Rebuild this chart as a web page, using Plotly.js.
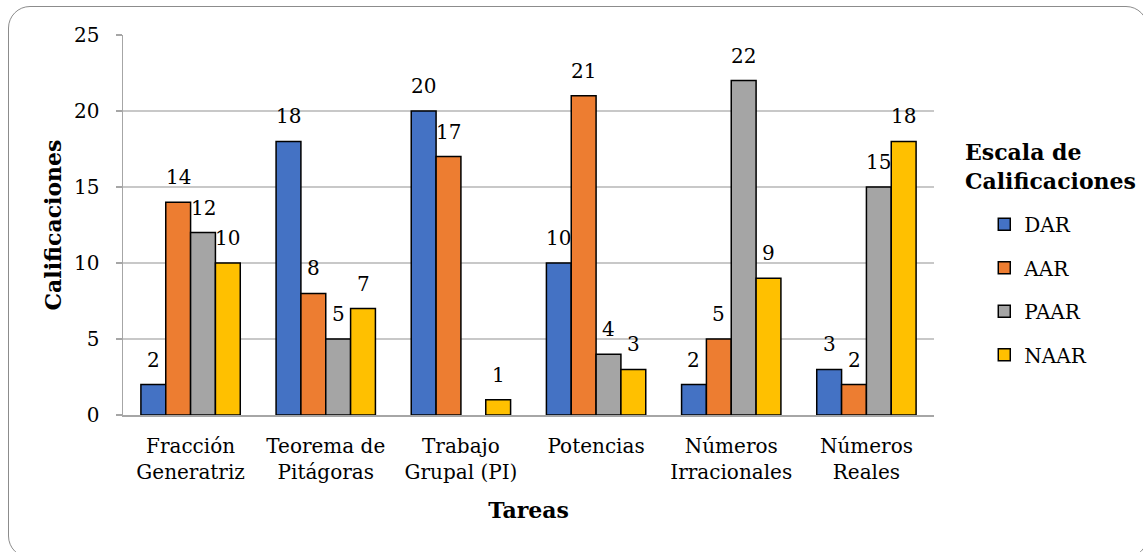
<!DOCTYPE html>
<html>
<head>
<meta charset="utf-8">
<script src="https://cdn.plot.ly/plotly-3.0.1.min.js"></script>
<style>
  html, body { margin: 0; padding: 0; background: #fff; }
  #wrap { position: relative; width: 1143px; height: 552px; overflow: hidden; }
  #chart { width: 1143px; height: 552px; }
  #frame { position: absolute; left: 8px; top: 5.5px; width: 1140px; height: 552px;
           border: 1.5px solid #8c8c8c; border-radius: 22px; pointer-events: none; box-sizing: border-box; }
</style>
</head>
<body>
<div id="wrap">
  <div id="chart"></div>
  <div id="frame"></div>
</div>
<script>
const categories = ["Fracción<br>Generatriz", "Teorema de<br>Pitágoras", "Trabajo<br>Grupal (PI)", "Potencias", "Números<br>Irracionales", "Números<br>Reales"];
const seriesNames = ["DAR", "AAR", "PAAR", "NAAR"];
const DAR  = [2, 18, 20, 10, 2, 3];
const AAR  = [14, 8, 17, 21, 5, 2];
const PAAR = [12, 5, null, 4, 22, 15];
const NAAR = [10, 7, 1, 3, 9, 18];
const seriesValues = [DAR, AAR, PAAR, NAAR];
const colors = ["#4472C4", "#ED7D31", "#A5A5A5", "#FFC000"];
const yTicks = [0, 5, 10, 15, 20, 25];

const FONT = "DejaVu Serif";
const bargap = 0.265;
const barW = (1 - bargap) / seriesNames.length;

const traces = seriesNames.map((name, i) => ({
  type: "bar",
  name: name,
  x: categories,
  y: seriesValues[i],
  marker: { color: colors[i], line: { color: "#000", width: 1.5 } },
  legendgroup: name,
  hoverinfo: "y+name"
}));

const annotations = [];
seriesValues.forEach((vals, i) => {
  const off = (i - (seriesNames.length - 1) / 2) * barW;
  vals.forEach((v, j) => {
    if (v === null) return;
    annotations.push({
      x: j + off, y: v, xref: "x", yref: "y",
      text: String(v), showarrow: false,
      xanchor: "center", yanchor: "bottom", yshift: 11,
      font: { family: FONT, size: 20, color: "#000" }
    });
  });
});

annotations.push({
  xref: "paper", yref: "paper", x: 1.0358, y: 0.655,
  xanchor: "left", yanchor: "middle", align: "left", showarrow: false,
  text: "<b>Escala de<br>Calificaciones</b>",
  font: { family: FONT, size: 22, color: "#000" }
});

const layout = {
  width: 1143, height: 552,
  margin: { l: 123, r: 209, t: 35, b: 137 },
  paper_bgcolor: "#fff", plot_bgcolor: "#fff",
  barmode: "group", bargap: bargap, bargroupgap: 0,
  font: { family: FONT, size: 20, color: "#000" },
  xaxis: {
    type: "category",
    showline: true, linecolor: "#a6a6a6", linewidth: 1.5,
    ticks: "", ticklabelstandoff: 12,
    tickfont: { family: FONT, size: 20, color: "#000" },
    title: { text: "<b>Tareas</b>", font: { family: FONT, size: 22, color: "#000" }, standoff: 20 },
    fixedrange: true
  },
  yaxis: {
    range: [0, 25], tickvals: yTicks, ticktext: yTicks.map(String),
    showline: true, linecolor: "#a6a6a6", linewidth: 1.5,
    ticks: "outside", ticklen: 6, tickcolor: "#a6a6a6", tickwidth: 1.5,
    showgrid: true, gridcolor: "#c8c8c8", gridwidth: 1.5,
    zeroline: false,
    ticklabelstandoff: 12,
    tickfont: { family: FONT, size: 20, color: "#000" },
    title: { text: "<b>Calificaciones</b>", font: { family: FONT, size: 22, color: "#000" }, standoff: 6 },
    fixedrange: true
  },
  showlegend: true,
  legend: {
    x: 1.062, xanchor: "left", y: 0.553, yanchor: "top",
    font: { family: FONT, size: 20, color: "#000" },
    tracegroupgap: 14.5, bgcolor: "rgba(0,0,0,0)"
  },
  annotations: annotations
};

Plotly.newPlot("chart", traces, layout, { staticPlot: true, displayModeBar: false });
</script>
</body>
</html>
